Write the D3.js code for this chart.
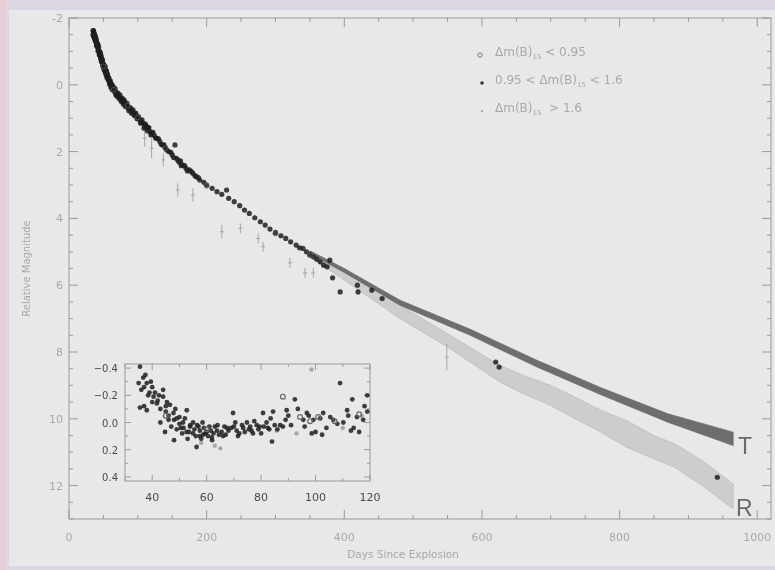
<!DOCTYPE html>
<html>
<head>
<meta charset="utf-8">
<script src="https://cdn.jsdelivr.net/npm/d3@7"></script>
<style>
  html, body { margin: 0; padding: 0; background: #ddd6e2; }
  svg { display: block; filter: blur(0.5px); }
</style>
</head>
<body>
<svg id="chart"></svg>
<script>
// main light curve, filled dots (0.95 < dm15 < 1.6): [days, relative mag]
var midDecl = [
	[35,-1.62],[35.5,-1.5],[36,-1.56],[36.5,-1.42],[37,-1.5],[37.5,-1.38],[38,-1.45],[38.5,-1.32],
	[39,-1.38],[40,-1.28],[40.5,-1.2],[41,-1.25],[42,-1.12],[42.5,-1.18],[43,-1.05],[44,-1.0],
	[44.5,-0.92],[45,-0.98],[46,-0.85],[47,-0.8],[47.5,-0.72],[48,-0.76],[49,-0.65],[50,-0.62],
	[51,-0.52],[52,-0.5],[53,-0.42],[54,-0.38],[55,-0.3],[56,-0.25],[57,-0.22],[58,-0.12],
	[59,-0.1],[60,-0.05],[61,0.0],[62,0.05],[63,0.08],[64,0.1],[65,0.15],[66,0.12],[67,0.2],
	[68,0.22],[69,0.28],[70,0.26],[71,0.32],[72,0.35],[74,0.38],[75,0.42],[76,0.45],[78,0.48],
	[80,0.52],[81,0.58],[83,0.6],[85,0.65],[86,0.7],[88,0.72],[90,0.78],[92,0.8],[94,0.85],
	[96,0.9],[98,0.95],[100,1.0],[103,1.05],[105,1.12],[108,1.15],[110,1.25],[112,1.22],
	[115,1.3],[118,1.4],[120,1.45],[124,1.52],[128,1.6],[132,1.7],[136,1.8],[140,1.88],
	[145,2.0],[150,2.1],[154,1.8],[156,2.2],[160,2.32],[162,2.28],[165,2.4],[170,2.5],
	[175,2.55],[180,2.65],[185,2.75],[190,2.85],[196,2.92],[200,3.0],[208,3.1],[215,3.2],
	[222,3.28],[229,3.15],[232,3.4],[240,3.5],[248,3.62],[255,3.75],[262,3.85],[270,3.98],
	[278,4.1],[285,4.2],[292,4.32],[300,4.42],[308,4.52],[315,4.6],[322,4.7],[330,4.8],
	[335,4.88],[340,4.9],[345,5.0],[350,5.08],[355,5.15],[360,5.22],[365,5.3],[370,5.4],
	[375,5.45],[379,5.25],[383,5.78],[394,6.2],[419,6.0],[420,6.2],[440,6.15],[455,6.4],
	[620,8.3],[625,8.45],[942,11.75],
	[35,-1.5],[35.5,-1.62],[36,-1.45],[36.5,-1.55],[37,-1.4],[37.5,-1.48],[38,-1.35],[38.5,-1.42],
	[39,-1.28],[39.5,-1.35],[40,-1.18],[41,-1.15],[41.5,-1.22],[42,-1.02],[43,-1.12],[43.5,-0.98],
	[44,-0.9],[45,-0.88],[45.5,-0.95],[46,-0.78],[46.5,-0.88],[47,-0.7],[48,-0.68],[48.5,-0.75],
	[49,-0.58],[50,-0.52],[50.5,-0.6],[51,-0.45],[52,-0.42],[52.5,-0.55],[53,-0.35],[54,-0.3],
	[54.5,-0.42],[55,-0.22],[56,-0.32],[57,-0.15],[58,-0.2],[59,-0.02],[60,-0.12],[61,0.08],
	[62,-0.02],[63,0.15],[64,0.05],[66,0.2],[67,0.12],[68,0.3],[70,0.35],[71,0.25],[73,0.42],
	[74,0.3],[76,0.5],[77,0.4],[79,0.58],[80,0.45],[82,0.65],[84,0.55],[87,0.78],[89,0.68],
	[91,0.85],[93,0.75],[95,0.92],[97,0.85],[99,1.02],[101,0.95],[104,1.15],[106,1.05],
	[109,1.3],[111,1.18],[114,1.38],[116,1.28],[119,1.5],[122,1.42],[126,1.6],[130,1.62],
	[134,1.78],[138,1.8],[142,1.95],[148,2.02],[152,2.18],[158,2.25],[163,2.42],[168,2.42],
	[172,2.58],[178,2.6],[183,2.72],[188,2.78]
];
// open circles (dm15 < 0.95)
var slowDecl = [
	[50,-0.55],[65,0.15],[85,0.62],[100,0.98],[140,1.9],[200,3.02],[300,4.45],[350,5.1]
];
// small crosses (dm15 > 1.6) with error
var fastDecl = [
	[110,1.6],[120,1.9],[137,2.25],[158,3.15],[180,3.3],[222,4.4],[249,4.3],[275,4.6],
	[282,4.85],[321,5.33],[343,5.63],[355,5.63],[549,8.15]
];
var fastErr = [0.25,0.3,0.2,0.2,0.2,0.2,0.15,0.15,0.15,0.15,0.15,0.15,0.4];

// model bands: [days, upper mag, lower mag]
var bandT = [
	[350,4.97,5.05],[400,5.5,5.62],[481,6.45,6.6],[583,7.32,7.5],[680,8.25,8.45],
	[773,9.07,9.28],[870,9.85,10.1],[965,10.4,10.8]
];
var bandR = [
	[350,5.0,5.15],[400,5.6,5.85],[481,6.6,7.0],[550,7.45,7.85],[626,8.4,8.9],
	[660,8.7,9.25],[700,9.0,9.6],[740,9.4,10.05],[773,9.75,10.4],[810,10.05,10.85],
	[850,10.5,11.2],[880,10.75,11.45],[920,11.25,12.0],[965,11.95,12.7]
];

// inset residuals: [days, dmag]
var insetMid = [
	[35.5,-0.41],[36.7,-0.33],[38,-0.29],[35,-0.29],[36,-0.24],[37,-0.26],[39,-0.22],[40.5,-0.19],
	[35.5,-0.11],[37,-0.12],[38,-0.09],[41.7,-0.14],[42.5,-0.2],[44,-0.19],[45.4,-0.15],[46.5,-0.13],
	[43,0.0],[44.7,0.07],[47.8,-0.07],[49,-0.03],[50,-0.04],[51.3,0.0],[52.7,-0.09],[48,0.13],
	[50.5,0.04],[52.6,0.07],[53.9,0.03],[55,0.08],[56.3,0.18],[57.5,0.06],[58.7,0.09],[60,0.07],
	[61.9,0.11],[63.8,0.06],[67.5,0.04],[69.7,-0.07],[71,0.06],[73.4,0.04],[74.8,0.0],[77,0.08],
	[78.4,0.02],[80.7,-0.07],[82,0.0],[84,0.14],[84.4,-0.08],[89.4,-0.09],[92.4,-0.17],[95.5,-0.02],
	[96.8,-0.07],[98.6,0.08],[99.2,-0.02],[101.7,-0.03],[102.4,0.09],[102.8,-0.07],[105.4,-0.04],
	[106.5,-0.02],[109,-0.29],[110.2,0.0],[111.6,-0.09],[113.5,-0.17],[114,0.04],[115.2,-0.04],
	[117.5,-0.02],[119,-0.2],[119,-0.08],
	[54,0.02],[55.5,0.05],[56,0.1],[57,0.03],[58,0.12],[59,0.04],[60.5,0.1],[61,0.03],[62.5,0.08],
	[64,0.02],[65.5,0.07],[66,0.1],[68,0.06],[70,0.03],[72,0.08],[75.5,0.05],[76,0.03],[79,0.05],
	[81,0.03],[83,0.05],[86,0.05],[87,0.02],[90,-0.05],[53,0.12],[51,0.08],[46,-0.05],[48.5,-0.1],
	[45,-0.08],[40,-0.15],[39.5,-0.3],[41,-0.22],[44,-0.24],[37.5,-0.35],
	[38.5,-0.2],[40,-0.26],[42,-0.16],[43,-0.1],[45,-0.12],[46,-0.02],[47,0.03],[48,-0.02],
	[49,0.05],[50,0.01],[51.5,0.04],[52,-0.03],[53.5,0.07],[55,0.0],[56.5,0.02],[57.5,0.1],
	[58.5,0.0],[59.5,0.08],[61.5,0.06],[62,0.13],[63,0.03],[64.5,0.09],[66.5,0.03],[67,0.09],
	[69,0.04],[70.5,0.0],[71.5,0.1],[73,0.02],[74,0.07],[76.5,0.06],[77.5,-0.01],[79.5,0.03],
	[80,0.08],[82.5,0.04],[83.5,-0.03],[85,0.02],[88,0.03],[89,-0.02],[91,0.02],[93.5,-0.1],
	[96,0.03],[97.5,-0.05],[100,0.07],[104,0.04],[108,0.01],[112,-0.05],[113,0.06],[116,0.07],
	[118,-0.12]
];
var insetSlow = [
	[45,-0.05],[60,0.05],[88,-0.19],[94.3,-0.04],[98,-0.01],[101,-0.04],[107,-0.01],[116,-0.06]
];
var insetFast = [
	[58,0.15],[63,0.17],[65,0.19],[85.7,0.06],[93,0.08],[98.5,-0.39],[110,0.04],[117,-0.05]
];

var xTicks = [0, 200, 400, 600, 800, 1000];
var yTicks = [-2, 0, 2, 4, 6, 8, 10, 12];
var insetXTicks = [40, 60, 80, 100, 120];
var insetYTicks = [-0.4, -0.2, 0.0, 0.2, 0.4];
var legendLabels = [
	["\u0394m(B)", "15", " < 0.95"],
	["0.95 < \u0394m(B)", "15", " < 1.6"],
	["\u0394m(B)", "15", "  > 1.6"]
];

var width = 775, height = 570;
var margin = {left: 69, right: 4, top: 18, bottom: 51};
var axisColor = "#9a9a9a", textColor = "#a8a8a8";

var svg = d3.select("#chart")
	.attr("width", width)
	.attr("height", height);

svg.append("rect").attr("x", 0).attr("y", 0).attr("width", 6).attr("height", height).attr("fill", "#e6cdd8");
svg.append("rect").attr("x", 9).attr("y", 10).attr("width", width - 9).attr("height", height - 14).attr("fill", "#e8e8e9");

var xScale = d3.scaleLinear()
	.domain([0, 1020])
	.range([margin.left, width - margin.right]);
var yScale = d3.scaleLinear()
	.domain([-2, 13])
	.range([margin.top, height - margin.bottom]);

// bands
var area = d3.area()
	.x(function (d) { return xScale(d[0]); })
	.y0(function (d) { return yScale(d[1]); })
	.y1(function (d) { return yScale(d[2]); });
svg.append("path").datum(bandR)
	.attr("d", area)
	.attr("fill", "#cdcdcd")
	.attr("stroke", "#bdbdbd")
	.attr("stroke-width", 0.8);
svg.append("path").datum(bandT)
	.attr("d", area)
	.attr("fill", "#6e6e6e")
	.attr("stroke", "#6e6e6e")
	.attr("stroke-width", 0.8);

svg.append("text").attr("x", xScale(972)).attr("y", yScale(11.05))
	.attr("font-family", "Liberation Sans, sans-serif").attr("font-size", 23)
	.attr("fill", "#6a6a6a").text("T");
svg.append("text").attr("x", xScale(969)).attr("y", yScale(12.9))
	.attr("font-family", "Liberation Sans, sans-serif").attr("font-size", 23)
	.attr("fill", "#6a6a6a").text("R");

// axes (ticks pointing inward on all four sides)
function frame(g, xs, ys, xMajor, yMajor, xMinor, yMinor, big, small) {
	var x0 = xs.range()[0], x1 = xs.range()[1];
	var y0 = ys.range()[0], y1 = ys.range()[1];
	g.append("rect").attr("x", x0).attr("y", y0)
		.attr("width", x1 - x0).attr("height", y1 - y0)
		.attr("fill", "none").attr("stroke", axisColor).attr("stroke-width", 1);
	xMinor.forEach(function (t) {
		var len = xMajor.indexOf(t) >= 0 ? big : small;
		g.append("line").attr("x1", xs(t)).attr("x2", xs(t)).attr("y1", y1).attr("y2", y1 - len).attr("stroke", axisColor);
		g.append("line").attr("x1", xs(t)).attr("x2", xs(t)).attr("y1", y0).attr("y2", y0 + len).attr("stroke", axisColor);
	});
	yMinor.forEach(function (t) {
		var len = yMajor.some(function (m) { return Math.abs(m - t) < 1e-6; }) ? big : small;
		g.append("line").attr("y1", ys(t)).attr("y2", ys(t)).attr("x1", x0).attr("x2", x0 + len).attr("stroke", axisColor);
		g.append("line").attr("y1", ys(t)).attr("y2", ys(t)).attr("x1", x1).attr("x2", x1 - len).attr("stroke", axisColor);
	});
}

var mainG = svg.append("g");
frame(mainG, xScale, yScale, xTicks, yTicks,
	d3.range(0, 1001, 50), d3.range(-2, 13.01, 0.5), 9, 4);

svg.append("g").selectAll("text").data(xTicks).enter().append("text")
	.attr("x", function (d) { return xScale(d); })
	.attr("y", height - margin.bottom + 22)
	.attr("text-anchor", "middle")
	.attr("font-family", "DejaVu Sans, sans-serif").attr("font-size", 11)
	.attr("fill", textColor)
	.text(function (d) { return d; });
svg.append("g").selectAll("text").data(yTicks).enter().append("text")
	.attr("x", margin.left - 6)
	.attr("y", function (d) { return yScale(d) + 4; })
	.attr("text-anchor", "end")
	.attr("font-family", "DejaVu Sans, sans-serif").attr("font-size", 11)
	.attr("fill", textColor)
	.text(function (d) { return d; });

svg.append("text")
	.attr("x", xScale(500) - 10).attr("y", height - 12)
	.attr("text-anchor", "middle")
	.attr("font-family", "DejaVu Sans, sans-serif").attr("font-size", 10.5)
	.attr("fill", textColor)
	.text("Days Since Explosion");
svg.append("text")
	.attr("transform", "translate(30," + yScale(5.5) + ") rotate(-90)")
	.attr("text-anchor", "middle")
	.attr("font-family", "DejaVu Sans, sans-serif").attr("font-size", 10)
	.attr("fill", textColor)
	.text("Relative Magnitude");

// main points
function crosses(g, data, errs, xs, ys, color) {
	data.forEach(function (d, i) {
		var cx = xs(d[0]), cy = ys(d[1]);
		g.append("line").attr("x1", cx - 2).attr("x2", cx + 2).attr("y1", cy).attr("y2", cy).attr("stroke", color);
		var e = errs ? errs[i] : 0.02;
		g.append("line").attr("x1", cx).attr("x2", cx).attr("y1", ys(d[1] - e)).attr("y2", ys(d[1] + e)).attr("stroke", color);
	});
}
crosses(svg.append("g"), fastDecl, fastErr, xScale, yScale, "#a6a6a6");

svg.append("g").selectAll("circle").data(midDecl).enter().append("circle")
	.attr("cx", function (d) { return xScale(d[0]); })
	.attr("cy", function (d) { return yScale(d[1]); })
	.attr("r", 2.6)
	.attr("fill", "#1e1e1e")
	.attr("fill-opacity", 0.85);
svg.append("g").selectAll("circle").data(slowDecl).enter().append("circle")
	.attr("cx", function (d) { return xScale(d[0]); })
	.attr("cy", function (d) { return yScale(d[1]); })
	.attr("r", 2.4)
	.attr("fill", "none")
	.attr("stroke", "#555");

// legend
var legend = svg.append("g");
legendLabels.forEach(function (lab, i) {
	var ly = 52 + i * 28;
	if (i === 0) {
		legend.append("circle").attr("cx", 480).attr("cy", ly + 3).attr("r", 2.2).attr("fill", "none").attr("stroke", "#777");
	} else if (i === 1) {
		legend.append("circle").attr("cx", 482).attr("cy", ly + 3).attr("r", 1.8).attr("fill", "#333");
	} else {
		legend.append("circle").attr("cx", 482).attr("cy", ly + 3).attr("r", 1.1).attr("fill", "#999");
	}
	var t = legend.append("text")
		.attr("x", 495).attr("y", ly + 4)
		.attr("font-family", "DejaVu Sans, sans-serif").attr("font-size", 12)
		.attr("fill", textColor)
		.attr("xml:space", "preserve");
	t.append("tspan").text(lab[0]);
	t.append("tspan").attr("font-size", 7).attr("dy", 3).text(lab[1]);
	t.append("tspan").attr("dy", -3).text(lab[2]);
});

// inset
var ix = d3.scaleLinear().domain([30, 120]).range([125, 370]);
var iy = d3.scaleLinear().domain([-0.43, 0.43]).range([364, 481]);
var insetG = svg.append("g");
insetG.append("rect").attr("x", 125).attr("y", 364).attr("width", 245).attr("height", 117).attr("fill", "#e8e8e9");
frame(insetG, ix, iy, insetXTicks, insetYTicks,
	d3.range(30, 121, 10), d3.range(-0.4, 0.41, 0.1), 6, 3);
insetG.selectAll(".ixl").data(insetXTicks).enter().append("text")
	.attr("x", function (d) { return ix(d); })
	.attr("y", 501)
	.attr("text-anchor", "middle")
	.attr("font-family", "DejaVu Sans, sans-serif").attr("font-size", 11)
	.attr("fill", "#4a4a4a")
	.text(function (d) { return d; });
insetG.selectAll(".iyl").data(insetYTicks).enter().append("text")
	.attr("x", 118)
	.attr("y", function (d) { return iy(d) + 4; })
	.attr("text-anchor", "end")
	.attr("font-family", "DejaVu Sans, sans-serif").attr("font-size", 10)
	.attr("fill", "#4a4a4a")
	.text(function (d) { return d3.format(".1f")(d); });

insetG.append("g").selectAll("circle").data(insetFast).enter().append("circle")
	.attr("cx", function (d) { return ix(d[0]); })
	.attr("cy", function (d) { return iy(d[1]); })
	.attr("r", 2.2)
	.attr("fill", "#a8a8a8");
insetG.append("g").selectAll("circle").data(insetMid).enter().append("circle")
	.attr("cx", function (d) { return ix(d[0]); })
	.attr("cy", function (d) { return iy(d[1]); })
	.attr("r", 2.4)
	.attr("fill", "#1e1e1e")
	.attr("fill-opacity", 0.85);
insetG.append("g").selectAll("circle").data(insetSlow).enter().append("circle")
	.attr("cx", function (d) { return ix(d[0]); })
	.attr("cy", function (d) { return iy(d[1]); })
	.attr("r", 2.4)
	.attr("fill", "none")
	.attr("stroke", "#666")
	.attr("stroke-width", 1.2);
</script>
</body>
</html>
